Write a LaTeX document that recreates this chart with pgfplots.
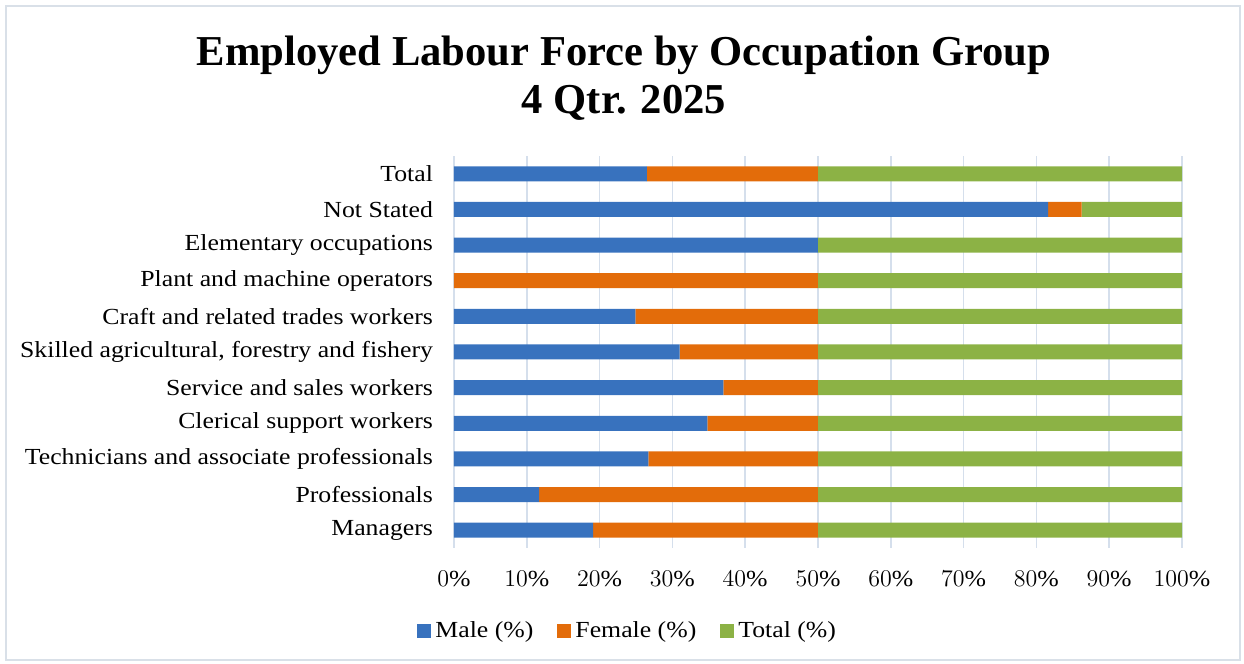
\documentclass[border=0pt]{standalone}
\usepackage{fontspec}
\setmainfont{Liberation Serif}
\newfontfamily\labfont[FakeStretch=1.12]{Liberation Serif}
\usepackage{pgfplots}
\pgfplotsset{compat=1.18}
\definecolor{malec}{HTML}{3872BE}
\definecolor{femc}{HTML}{E36C0A}
\definecolor{totc}{HTML}{8CB245}
\definecolor{gridc}{HTML}{D5DFEC}
\definecolor{framec}{HTML}{D9E0E8}
\begin{document}
\begin{tikzpicture}
\path[use as bounding box] (0,0) rectangle (622pt,332pt);
\draw[draw=framec, line width=0.8pt] (3pt,2pt) rectangle (620pt,329pt);
\node[font=\bfseries\fontsize{21.3}{24}\selectfont, align=center] at (312pt,293pt) {Employed Labour Force by Occupation Group\\4 Qtr. 2025};
\begin{axis}[
  at={(227pt,58pt)}, anchor=south west, scale only axis,
  width=364pt, height=196pt,
  xbar stacked, bar width=7.5pt,
  xmin=0, xmax=100, ymin=-0.5, ymax=10.5,
  ytick={0,...,10},
  yticklabels={Managers,Professionals,Technicians and associate professionals,Clerical support workers,Service and sales workers,{Skilled agricultural, forestry and fishery},Craft and related trades workers,Plant and machine operators,Elementary occupations,Not Stated,Total},
  xtick={0,10,...,100},
  xticklabel={\pgfmathprintnumber{\tick}\%},
  axis line style={draw=none},
  major tick length=0pt,
  xmajorgrids, grid style={gridc, line width=0.8pt},
  tick label style={font=\labfont\fontsize{11.5}{13}\selectfont},
  yticklabel style={xshift=-7pt},
  xticklabel style={yshift=-8pt},
  legend style={at={(0.24,-0.212)}, anchor=center, draw=none, font=\labfont\fontsize{11.5}{13}\selectfont, legend columns=-1,
    /tikz/every even column/.append style={column sep=10pt}},
  legend image code/.code={\fill[#1] (0pt,-3.5pt) rectangle (7pt,3.5pt);},
]
\addplot[draw=none, fill=malec] coordinates {
 (19.1,0) (11.7,1) (26.7,2) (34.8,3) (37.0,4) (31.0,5) (24.9,6) (0,7) (50,8) (81.6,9) (26.5,10)};
\addplot[draw=none, fill=femc] coordinates {
 (30.9,0) (38.3,1) (23.3,2) (15.2,3) (13.0,4) (19.0,5) (25.1,6) (50,7) (0,8) (4.6,9) (23.5,10)};
\addplot[draw=none, fill=totc] coordinates {
 (50,0) (50,1) (50,2) (50,3) (50,4) (50,5) (50,6) (50,7) (50,8) (13.8,9) (50,10)};
\legend{Male (\%),Female (\%),Total (\%)}
\end{axis}
\end{tikzpicture}
\end{document}
